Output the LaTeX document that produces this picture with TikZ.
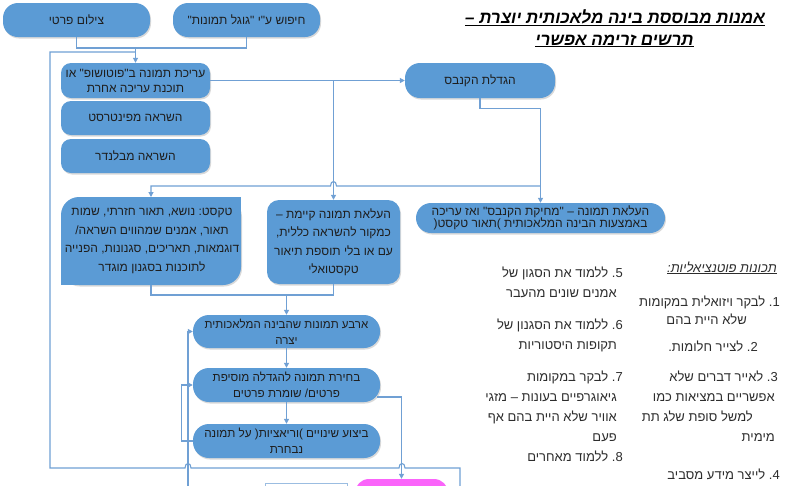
\documentclass[tikz,border=0pt]{standalone}
\usepackage{fontspec}
\usetikzlibrary{arrows.meta,shadows}
\newfontfamily\heb[Script=Hebrew]{Liberation Sans}
\TeXXeTstate=1
\frenchspacing
\newcommand{\rl}[1]{\beginR #1\endR}
\definecolor{boxblue}{RGB}{91,155,213}
\definecolor{connc}{RGB}{112,160,212}
\definecolor{pinkbox}{RGB}{250,100,250}
\definecolor{boxtxt}{RGB}{30,30,30}
\definecolor{sidetxt}{RGB}{45,45,45}
\begin{document}
\frenchspacing
\begin{tikzpicture}[x=1pt,y=-1pt,
  box/.style={fill=boxblue, text=boxtxt, align=center, inner sep=0pt,
    general shadow={fill=black, opacity=0.15, shadow xshift=1pt, shadow yshift=-1.5pt},
    font=\heb\frenchspacing\fontsize{12}{15}\selectfont},
  cn/.style={draw=connc, line width=1.1pt},
  ar/.style={cn, -{Triangle[length=5pt,width=5pt]}},
  side/.style={anchor=base east, text=sidetxt, inner sep=0pt, font=\heb\frenchspacing\fontsize{13}{16}\selectfont},
  ttl/.style={anchor=base, text=black, inner sep=0pt, font=\heb\bfseries\itshape\fontsize{17}{22}\selectfont}]
\useasboundingbox (0,0) rectangle (785,485);
\fill[white] (0,0) rectangle (785,485);
\clip (0,0) rectangle (785,485);

% title
\node[ttl] (t1) at (615,23) {\underline{\rl{אמנות מבוססת בינה מלאכותית יוצרת –}}};
\node[ttl] (t2) at (614.5,45) {\underline{\rl{תרשים זרימה אפשרי}}};

% boxes
\node[box, minimum width=147pt, minimum height=34pt, rounded corners=15pt] (b1) at (76.5,20) {\rl{צילום פרטי}};
\node[box, minimum width=147pt, minimum height=34pt, rounded corners=15pt] (b2) at (246.5,20) {\rl{חיפוש ע"י "גוגל תמונות"}};
\node[box, minimum width=149pt, minimum height=35pt, rounded corners=10pt] (b3) at (135.5,80.5) {\rl{עריכת תמונה ב"פוטושופ" או}\\\rl{תוכנת עריכה אחרת}};
\node[box, minimum width=149pt, minimum height=34pt, rounded corners=10pt] (b4) at (135.5,118) {\rl{השראה מפינטרסט}};
\node[box, minimum width=149pt, minimum height=34pt, rounded corners=10pt] (b5) at (135.5,156) {\rl{השראה מבלנדר}};
\node[box, minimum width=150pt, minimum height=35pt, rounded corners=15pt] (b6) at (480,80.5) {\rl{הגדלת הקנבס}};

% box 7 (two rounded corners)
\fill[black, opacity=0.15, rounded corners=18pt] (62,198.5) rectangle (242,286.5);
\fill[boxblue, rounded corners=18pt] (61,197) rectangle (241,285);
\fill[boxblue] (221,197) rectangle (241,217);
\fill[boxblue] (61,265) rectangle (81,285);
\node[align=center, inner sep=0pt, text=boxtxt, minimum width=180pt, minimum height=88pt,
  font=\heb\frenchspacing\fontsize{12}{18.5}\selectfont] (b7) at (152,241)
  {\rl{טקסט: נושא, תאור חזרתי, שמות}\\\rl{תאור, אמנים שמהווים השראה/}\\\rl{דוגמאות, תאריכים, סגנונות, הפנייה}\\\rl{לתוכנות בסגנון מוגדר}};

\node[box, minimum width=133pt, minimum height=84pt, rounded corners=12pt, font=\heb\frenchspacing\fontsize{12}{18.5}\selectfont] (b8) at (333.5,242)
  {\rl{העלאת תמונה קיימת –}\\\rl{כמקור להשראה כללית,}\\\rl{עם או בלי תוספת תיאור}\\\rl{טקסטואלי}};
\node[box, minimum width=249pt, minimum height=30pt, rounded corners=15pt, font=\heb\frenchspacing\fontsize{12}{12.5}\selectfont] (b9) at (540.5,218)
  {\rl{העלאת תמונה – "מחיקת הקנבס" ואז עריכה}\\\rl{באמצעות הבינה המלאכותית )תאור טקסט(}};
\node[box, minimum width=187pt, minimum height=33pt, rounded corners=16pt, font=\heb\frenchspacing\fontsize{11.5}{16}\selectfont] (b10) at (286.5,331.5)
  {\rl{ארבע תמונות שהבינה המלאכותית}\\\rl{יצרה}};
\node[box, minimum width=187pt, minimum height=34pt, rounded corners=16pt, font=\heb\frenchspacing\fontsize{11.7}{16}\selectfont] (b11) at (286.5,385)
  {\rl{בחירת תמונה להגדלה מוסיפת}\\\rl{פרטים/ שומרת פרטים}};
\node[box, minimum width=187pt, minimum height=34pt, rounded corners=16pt, font=\heb\frenchspacing\fontsize{11.7}{16}\selectfont] (b12) at (286.5,441)
  {\rl{ביצוע שינויים )וריאציות( על תמונה}\\\rl{נבחרת}};
\node[box, fill=pinkbox, minimum width=93pt, minimum height=36pt, rounded corners=14pt] (mg) at (401.5,497) {};

% connectors
\coordinate (j1) at (135.5,48);
\coordinate (lj) at (135.5,52);
\draw[cn] (b1.south) |- (j1);
\draw[cn] (b2.south) |- (j1);
\draw[ar] (j1) -- (b3.north);
\coordinate (lb) at (460,490);
\draw[cn] (lb) -- (460,468) -- (405,468) .. controls (405,462) and (399,462) .. (399,468)
  -- (191,468) .. controls (191,462) and (185,462) .. (185,468) -- (50,468) -- (50,52) -- (lj);
\draw[ar] (b3.east) -- (b6.west);
\coordinate (j2) at (333.5,80.5);
\draw[ar] (j2) -- (b8.north);
\draw[ar] (b6.south) -- ++(0,10) -| (b9.north);
\coordinate (j3) at (540.5,186);
\draw[ar] (j3) -- (336.5,186) .. controls (336.5,180) and (330.5,180) .. (330.5,186) -- (151,186) -- (151,197);
\coordinate (j4) at (286.5,295);
\draw[cn] (151,285) |- (j4);
\draw[cn] (b8.south) |- (j4);
\draw[ar] (j4) -- (b10.north);
\draw[ar] (b10.south) -- (b11.north);
\draw[ar] (b11.south) -- (b12.north);
\draw[ar] (b12.west) -- ++(-11,0) |- (b11.west);
\coordinate (lb2) at (188,490);
\draw[ar] (lb2) |- (b10.west);
\coordinate (b11x) at (377,397);
\draw[ar] (b11x) -| (mg.north);
\draw[draw=connc!70, line width=0.8pt] (265,495) -- (265,483) -- (347,483) -- (347,495);

% side texts
\node[side] (h1) at (777,272) {\itshape\underline{\rl{תכונות פוטנציאליות:}}};
\node[side] (s1a) at (780,306) {\rl{1. לבקר ויזואלית במקומות}};
\node[side] (s1b) at (747,324) {\rl{שלא היית בהם}};
\node[side] (s2) at (758,351) {\rl{2. לצייר חלומות.}};
\node[side] (s3a) at (778,381) {\rl{3. לאייר דברים שלא}};
\node[side] (s3b) at (775,401) {\rl{אפשריים במציאות כמו}};
\node[side] (s3c) at (753,421) {\rl{למשל סופת שלג תת}};
\node[side] (s3d) at (775,441) {\rl{מימית}};
\node[side] (s4) at (780,479) {\rl{4. לייצר מידע מסביב}};
\node[side] (s5a) at (623,277) {\rl{5. ללמוד את הסגון של}};
\node[side] (s5b) at (617,297) {\rl{אמנים שונים מהעבר}};
\node[side] (s6a) at (623,329) {\rl{6. ללמוד את הסגנון של}};
\node[side] (s6b) at (617,349) {\rl{תקופות היסטוריות}};
\node[side] (s7a) at (623,381) {\rl{7. לבקר במקומות}};
\node[side] (s7b) at (617,401) {\rl{גיאוגרפיים בעונות – מזגי}};
\node[side] (s7c) at (617,421) {\rl{אוויר שלא היית בהם אף}};
\node[side] (s7d) at (617,441) {\rl{פעם}};
\node[side] (s8) at (623,461) {\rl{8. ללמוד מאחרים}};
\end{tikzpicture}
\end{document}
